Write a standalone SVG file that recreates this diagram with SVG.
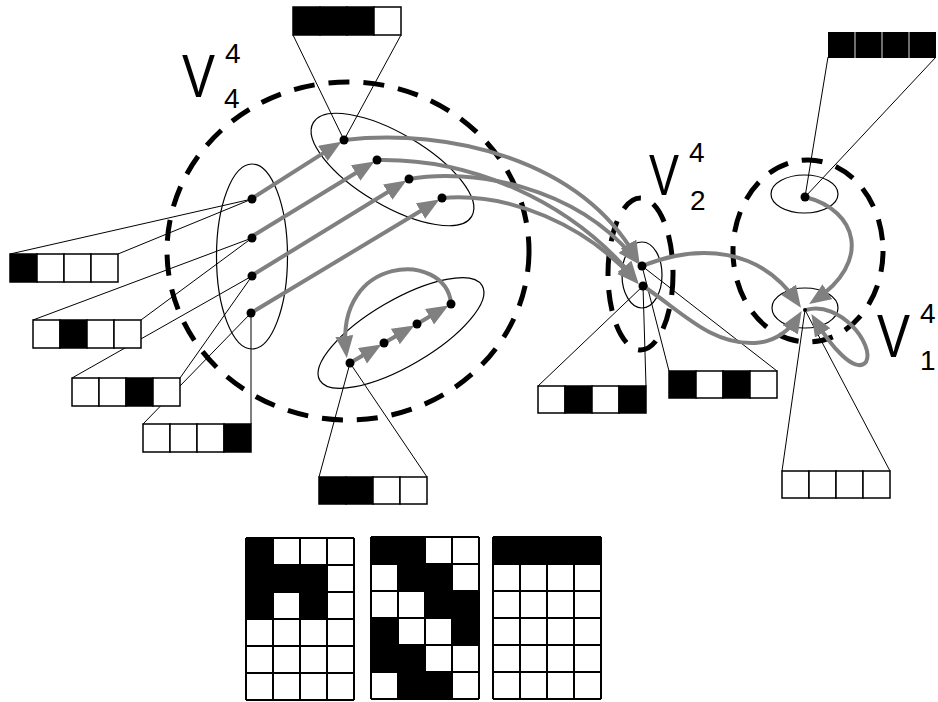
<svg xmlns="http://www.w3.org/2000/svg" width="938" height="702" viewBox="0 0 938 702">
<style>
.dash{fill:none;stroke:#000;stroke-width:5;stroke-dasharray:21 14}
.clu{fill:none;stroke:#000;stroke-width:1.2}
.lead{fill:none;stroke:#000;stroke-width:1}
.w{fill:#fff;stroke:#000;stroke-width:1.5}
.b{fill:#000;stroke:#000;stroke-width:1.5}
.arr{fill:none;stroke:#808080;stroke-width:4;marker-end:url(#ah)}
.dot{fill:#000}
.lbl{font-family:"Liberation Sans",Arial,sans-serif;fill:#000}
.grid{fill:none;stroke:#000;stroke-width:2}
</style>
<defs>
<marker id="ah" markerUnits="userSpaceOnUse" markerWidth="24" markerHeight="20" refX="15" refY="9" orient="auto"><path d="M0,0 L22,9 L0,18 z" fill="#808080"/></marker>
</defs>

<!-- clusters -->
<g id="clusters">
<ellipse class="dash" cx="348" cy="251" rx="181" ry="169"/>
<ellipse class="dash" cx="640.5" cy="274" rx="32.5" ry="76"/>
<ellipse class="dash" cx="808" cy="251" rx="75" ry="91"/>
<ellipse class="clu" cx="252" cy="256.5" rx="35.5" ry="92.5"/>
<ellipse class="clu" cx="392.5" cy="169.5" rx="92" ry="36" transform="rotate(30.6 392.5 169.5)"/>
<ellipse class="clu" cx="401" cy="333" rx="94" ry="33" transform="rotate(-30.3 401 333)"/>
<ellipse class="clu" cx="642" cy="275" rx="20" ry="33"/>
<ellipse class="clu" cx="804.5" cy="194" rx="33.5" ry="19"/>
<ellipse class="clu" cx="805" cy="308" rx="33" ry="20"/>
</g>

<!-- labels -->
<g id="labels" class="lbl">
<text x="182" y="97" font-size="62" textLength="33" lengthAdjust="spacingAndGlyphs">V</text>
<text x="225" y="63" font-size="28">4</text>
<text x="224" y="108" font-size="28">4</text>
<text x="649" y="195" font-size="58" textLength="30" lengthAdjust="spacingAndGlyphs">V</text>
<text x="689" y="162" font-size="28">4</text>
<text x="690" y="210" font-size="28">2</text>
<text x="877" y="357" font-size="62" textLength="33" lengthAdjust="spacingAndGlyphs">V</text>
<text x="920" y="323" font-size="28">4</text>
<text x="920" y="370" font-size="28">1</text>
</g>

<!-- leader lines -->
<g id="leaders" class="lead">
<path d="M344,140 L293,35 M344,140 L401,35"/>
<path d="M252,199 L10,254 M252,199 L118,254"/>
<path d="M252,238 L33,320 M252,238 L141,320"/>
<path d="M252,276 L72,378 M252,276 L180,378"/>
<path d="M251,313 L143,424 M251,313 L251,424"/>
<path d="M350,363 L319,477 M350,363 L427,477"/>
<path d="M643,286 L538,386 M643,286 L646,386"/>
<path d="M642,266 L669,371 M642,266 L777,371"/>
<path d="M805,310 L782,471 M805,310 L890,471"/>
<path d="M805,197 L828,57 M805,197 L936,57"/>
</g>

<!-- bit boxes -->
<g id="box-v4top">
<rect class="b" x="293" y="7" width="27" height="28"/><rect class="b" x="320" y="7" width="27" height="28"/><rect class="b" x="347" y="7" width="27" height="28"/><rect class="w" x="374" y="7" width="27" height="28"/>
</g>
<g id="box-a">
<rect class="b" x="10" y="254" width="27" height="28"/><rect class="w" x="37" y="254" width="27" height="28"/><rect class="w" x="64" y="254" width="27" height="28"/><rect class="w" x="91" y="254" width="27" height="28"/>
</g>
<g id="box-c">
<rect class="w" x="72" y="378" width="27" height="28"/><rect class="w" x="99" y="378" width="27" height="28"/><rect class="b" x="126" y="378" width="27" height="28"/><rect class="w" x="153" y="378" width="27" height="28"/>
</g>
<g id="box-b">
<rect class="w" x="33" y="320" width="27" height="28"/><rect class="b" x="60" y="320" width="27" height="28"/><rect class="w" x="87" y="320" width="27" height="28"/><rect class="w" x="114" y="320" width="27" height="28"/>
</g>
<g id="box-d">
<rect class="w" x="143" y="424" width="27" height="28"/><rect class="w" x="170" y="424" width="27" height="28"/><rect class="w" x="197" y="424" width="27" height="28"/><rect class="b" x="224" y="424" width="27" height="28"/>
</g>
<g id="box-v4low">
<rect class="b" x="319" y="477" width="27" height="27"/><rect class="b" x="346" y="477" width="27" height="27"/><rect class="w" x="373" y="477" width="27" height="27"/><rect class="w" x="400" y="477" width="27" height="27"/>
</g>
<g id="box-v2l">
<rect class="w" x="538" y="386" width="27" height="27"/><rect class="b" x="565" y="386" width="27" height="27"/><rect class="w" x="592" y="386" width="27" height="27"/><rect class="b" x="619" y="386" width="27" height="27"/>
</g>
<g id="box-v2r">
<rect class="b" x="669" y="371" width="27" height="27"/><rect class="w" x="696" y="371" width="27" height="27"/><rect class="b" x="723" y="371" width="27" height="27"/><rect class="w" x="750" y="371" width="27" height="27"/>
</g>
<g id="box-v1b">
<rect class="w" x="782" y="471" width="27" height="27"/><rect class="w" x="809" y="471" width="27" height="27"/><rect class="w" x="836" y="471" width="27" height="27"/><rect class="w" x="863" y="471" width="27" height="27"/>
</g>
<g id="box-v1t">
<rect x="828" y="32" width="108" height="26" fill="#000"/>
<path d="M855,32 V58 M882,32 V58 M909,32 V58" stroke="#ddd" stroke-width="1"/>
</g>

<!-- connectors -->
<g id="connectors">
<path class="arr" d="M251,199 L335.5,145.4"/>
<path class="arr" d="M251,237 L368.5,165.2"/>
<path class="arr" d="M251,276 L400.5,184.2"/>
<path class="arr" d="M251,313 L433.4,203.2"/>
<path class="arr" d="M350,363 L375.4,348.1"/>
<path class="arr" d="M384,343 L408.3,329"/>
<path class="arr" d="M417,324 L442.4,309.1"/>
<path class="arr" d="M451,303 C445,250 335,255 346,351"/>
<path class="arr" d="M344,140 C450,128 580,160 636,257"/>
<path class="arr" d="M409,179 C470,168 575,185 635,259"/>
<path class="arr" d="M377,160 C470,158 570,200 634,278"/>
<path class="arr" d="M442,198 C510,192 585,225 634,279"/>
<path class="arr" d="M642,266 C700,243 760,248 797,302"/>
<path class="arr" d="M643,286 C680,310 710,345 755,343 C775,342 790,330 798,317"/>
<path class="arr" d="M805,197 C858,210 872,262 815,300"/>
<path class="arr" d="M806,310 C840,300 875,345 866,362 C855,375 830,345 815,320"/>
</g>

<!-- nodes -->
<g id="n-a"><circle class="dot" cx="252" cy="199" r="4.5"/></g>
<g id="n-b"><circle class="dot" cx="252" cy="238" r="4.5"/></g>
<g id="n-c"><circle class="dot" cx="252" cy="276" r="4.5"/></g>
<g id="n-d"><circle class="dot" cx="251" cy="313" r="4.5"/></g>
<g id="n-e"><circle class="dot" cx="344" cy="140" r="4.5"/></g>
<g id="n-f"><circle class="dot" cx="377" cy="160" r="4.5"/></g>
<g id="n-g"><circle class="dot" cx="409" cy="179" r="4.5"/></g>
<g id="n-h"><circle class="dot" cx="442" cy="198" r="4.5"/></g>
<g id="n-i"><circle class="dot" cx="350" cy="363" r="4.5"/></g>
<g id="n-j"><circle class="dot" cx="384" cy="343" r="4.5"/></g>
<g id="n-k"><circle class="dot" cx="417" cy="324" r="4.5"/></g>
<g id="n-l"><circle class="dot" cx="451" cy="304" r="4.5"/></g>
<g id="n-m"><circle class="dot" cx="642" cy="266" r="4.5"/></g>
<g id="n-n"><circle class="dot" cx="643" cy="286" r="4.5"/></g>
<g id="n-o"><circle class="dot" cx="805" cy="197" r="4.5"/></g>
<g id="n-p"><circle class="dot" cx="805" cy="310" r="2"/></g>

<!-- bottom grids -->
<g id="grid1">
<path d="M246,538h27v81h-27z M273,565h54v27h-54z M300,592h27v27h-27z" fill="#000"/>
<path class="grid" d="M246,538V700M273,538V700M300,538V700M327,538V700M354,538V700M246,538H354M246,565H354M246,592H354M246,619H354M246,646H354M246,673H354M246,700H354"/>
</g>
<g id="grid2">
<path d="M371,537h54v27h-54z M398,564h54v27h-54z M425,591h54v27h-54z M371,618h27v27h-27z M452,618h27v27h-27z M371,645h54v27h-54z M398,672h54v27h-54z" fill="#000"/>
<path class="grid" d="M371,537V699M398,537V699M425,537V699M452,537V699M479,537V699M371,537H479M371,564H479M371,591H479M371,618H479M371,645H479M371,672H479M371,699H479"/>
</g>
<g id="grid3">
<rect x="493" y="537" width="108" height="27" fill="#000"/>
<path class="grid" d="M493,537V699M520,537V699M547,537V699M574,537V699M601,537V699M493,537H601M493,564H601M493,591H601M493,618H601M493,645H601M493,672H601M493,699H601"/>
</g>
</svg>
